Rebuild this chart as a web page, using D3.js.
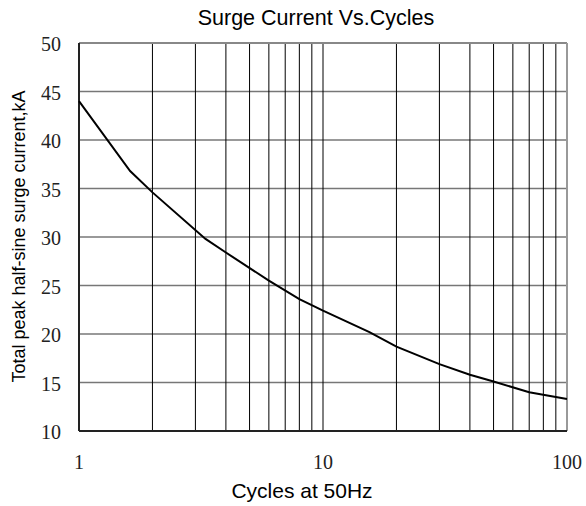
<!DOCTYPE html>
<html>
<head>
<meta charset="utf-8">
<script src="https://cdn.jsdelivr.net/npm/d3@7"></script>
</head>
<body style="margin:0;background:#fff">
<svg id="canvas" width="586" height="506"></svg>
<script>
// curve: cycles vs peak current (kA)
const cycles = [1, 1.62, 2, 3.3, 4, 6, 8, 10, 15.5, 20, 30, 40, 50, 70, 100]
const current = [44, 36.8, 34.6, 29.8, 28.4, 25.5, 23.6, 22.4, 20.2, 18.7, 16.9, 15.8, 15.1, 14.0, 13.3]
const yTicks = [10, 15, 20, 25, 30, 35, 40, 45, 50]
const xTicks = [1, 10, 100]
const xGrid = [2, 3, 4, 5, 6, 7, 8, 9, 10, 20, 30, 40, 50, 60, 70, 80, 90]

const numFont = "'Liberation Serif', 'Times New Roman', 'DejaVu Serif', serif"
const labFont = "'Liberation Sans', Arial, sans-serif"

let canvas = d3.select('#canvas')
const plotL = 79, plotR = 567, plotT = 43, plotB = 431

let x = d3.scaleLog().domain([1, 100]).range([plotL, plotR])
let y = d3.scaleLinear().domain([10, 50]).range([plotB, plotT])

// horizontal grid
canvas.selectAll('.hg')
  .data(yTicks.slice(1, -1))
  .enter()
  .append('line')
  .attr('x1', plotL).attr('x2', plotR)
  .attr('y1', d => y(d)).attr('y2', d => y(d))
  .attr('stroke', '#777')
  .attr('stroke-width', 1.6)

// vertical grid
canvas.selectAll('.vg')
  .data(xGrid)
  .enter()
  .append('line')
  .attr('x1', d => x(d)).attr('x2', d => x(d))
  .attr('y1', plotT).attr('y2', plotB)
  .attr('stroke', '#000')
  .attr('stroke-width', 1)

// frame
canvas.append('line').attr('x1', plotL).attr('x2', plotR).attr('y1', plotT).attr('y2', plotT)
  .attr('stroke', '#888').attr('stroke-width', 2)
canvas.append('line').attr('x1', plotR).attr('x2', plotR).attr('y1', plotT).attr('y2', plotB)
  .attr('stroke', '#999').attr('stroke-width', 2)
canvas.append('line').attr('x1', plotL).attr('x2', plotL).attr('y1', plotT).attr('y2', plotB)
  .attr('stroke', '#222').attr('stroke-width', 2)
canvas.append('line').attr('x1', plotL).attr('x2', plotR).attr('y1', plotB).attr('y2', plotB)
  .attr('stroke', '#222').attr('stroke-width', 2)

// tick labels
canvas.selectAll('.yl')
  .data(yTicks)
  .enter()
  .append('text')
  .style('font-family', numFont)
  .style('font-size', '20px')
  .style('fill', '#222')
  .attr('x', 61)
  .attr('y', d => y(d) + 8)
  .attr('text-anchor', 'end')
  .text(d => d)

canvas.selectAll('.xl')
  .data(xTicks)
  .enter()
  .append('text')
  .style('font-family', numFont)
  .style('font-size', '20px')
  .style('fill', '#222')
  .attr('x', d => x(d))
  .attr('y', 469)
  .attr('text-anchor', 'middle')
  .text(d => d)

// curve
let line = d3.line()
  .x((d, i) => x(cycles[i]))
  .y(d => y(d))
  .curve(d3.curveLinear)

canvas.append('path')
  .attr('d', line(current))
  .attr('fill', 'none')
  .attr('stroke', '#000')
  .attr('stroke-width', 2)

// titles
canvas.append('text')
  .style('font-family', labFont)
  .style('font-size', '21.5px')
  .attr('x', 316).attr('y', 25)
  .attr('text-anchor', 'middle')
  .text('Surge Current Vs.Cycles')

canvas.append('text')
  .style('font-family', labFont)
  .style('font-size', '21px')
  .attr('x', 302).attr('y', 498)
  .attr('text-anchor', 'middle')
  .text('Cycles at 50Hz')

canvas.append('text')
  .style('font-family', labFont)
  .style('font-size', '18px')
  .attr('transform', 'translate(25,236.5) rotate(-90)')
  .attr('text-anchor', 'middle')
  .text('Total peak half-sine surge current,kA')
</script>
</body>
</html>
